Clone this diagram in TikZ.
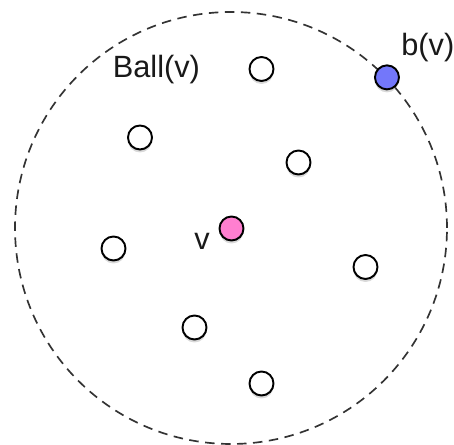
\documentclass[tikz,border=0pt]{standalone}
\usepackage{fontspec}
\setmainfont{Liberation Sans}
\usepackage{xcolor}
\usepackage{tikz}
\usetikzlibrary{
  positioning,
  shadows
}
\definecolor{vpink}{HTML}{FF7FD0}
\definecolor{bblue}{HTML}{7377FA}
\tikzset{
  vertex/.style={
    circle, draw=black, line width=1.1pt, fill=#1,
    minimum size=0.48cm, inner sep=0pt,
    drop shadow={shadow xshift=0pt, shadow yshift=-0.06cm, opacity=0.3}
  },
  vertex/.default=white,
  ballline/.style={
    circle, draw=black!80, line width=0.95pt, inner sep=0pt,
    dash pattern=on 0.19cm off 0.13cm
  },
  lbl/.style={
    font=\fontsize{17.5}{20}\selectfont, inner sep=0pt, color=black!90
  },
}

\begin{document}
\begin{tikzpicture}
  \useasboundingbox (0,0) rectangle (9.08,8.9);

  \node[ballline, minimum size=8.64cm] (ball) at (4.62,4.34) {};

  \node[vertex] (u1) at (5.23,7.52) {};
  \node[vertex] (u2) at (2.80,6.15) {};
  \node[vertex] (u3) at (5.97,5.65) {};
  \node[vertex] (u4) at (2.27,3.93) {};
  \node[vertex] (u5) at (7.31,3.56) {};
  \node[vertex] (u6) at (3.89,2.35) {};
  \node[vertex] (u7) at (5.23,1.23) {};
  \node[vertex=vpink] (v) at (4.63,4.33) {};
  \node[vertex=bblue] (b) at (ball.44) {};

  \node[lbl, anchor=base west] (balllab) at (2.25,7.34) {Ball(v)};
  \node[lbl, anchor=base east] (vlab) at (4.20,3.90) {v};
  \node[lbl, anchor=base west] (blab) at (8.02,7.78) {b(v)};
\end{tikzpicture}
\end{document}
